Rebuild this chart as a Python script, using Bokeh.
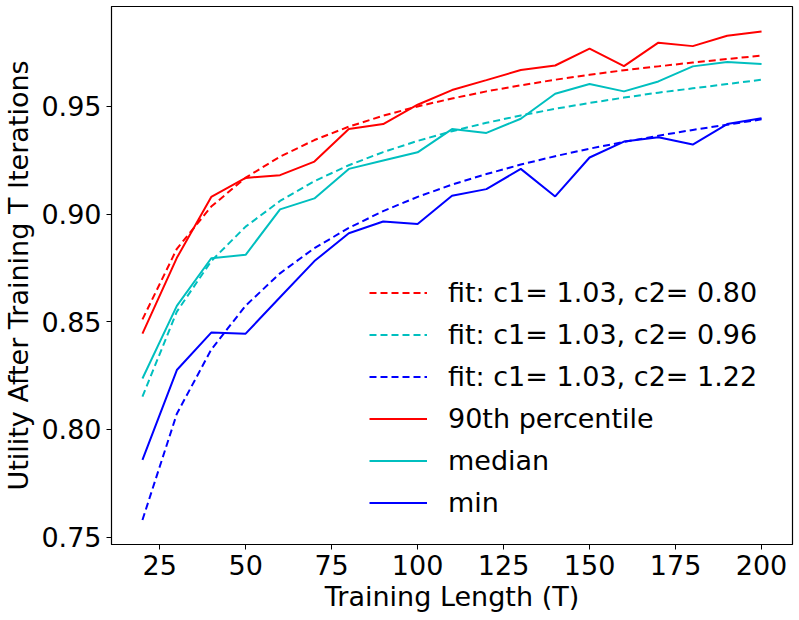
from bokeh.plotting import figure
from bokeh.models import Range1d, FixedTicker, Legend, LegendItem, PrintfTickFormatter
from bokeh.embed import file_html
from bokeh.resources import INLINE

T = [20, 30, 40, 50, 60, 70, 80, 90, 100, 110, 120, 130, 140, 150, 160, 170, 180, 190, 200]

p90 = [0.8445, 0.8797, 0.9080, 0.9168, 0.9181, 0.9244, 0.9395, 0.9418, 0.9508, 0.9576,
       0.9622, 0.9669, 0.9690, 0.9768, 0.9687, 0.9796, 0.9780, 0.9828, 0.9848]
median = [0.8237, 0.8574, 0.8795, 0.8811, 0.9022, 0.9073, 0.9210, 0.9249, 0.9287, 0.9395,
          0.9377, 0.9443, 0.9559, 0.9604, 0.9570, 0.9616, 0.9686, 0.9706, 0.9697]
minimum = [0.7859, 0.8276, 0.8450, 0.8445, 0.8614, 0.8782, 0.8911, 0.8966, 0.8954, 0.9085,
           0.9116, 0.9210, 0.9082, 0.9263, 0.9337, 0.9357, 0.9323, 0.9418, 0.9445]

fit_p90 = [0.8511, 0.8839, 0.9035, 0.9169, 0.9267, 0.9344, 0.9406, 0.9457, 0.9500, 0.9537,
           0.9570, 0.9598, 0.9624, 0.9647, 0.9668, 0.9686, 0.9704, 0.9720, 0.9736]
fit_median = [0.8153, 0.8547, 0.8782, 0.8942, 0.9061, 0.9153, 0.9227, 0.9288, 0.9340, 0.9385,
              0.9424, 0.9458, 0.9489, 0.9516, 0.9541, 0.9564, 0.9584, 0.9604, 0.9624]
fit_min = [0.7580, 0.8073, 0.8371, 0.8575, 0.8725, 0.8842, 0.8936, 0.9014, 0.9080, 0.9137,
           0.9186, 0.9230, 0.9269, 0.9304, 0.9335, 0.9364, 0.9391, 0.9415, 0.9440]

labels_fit = ["fit: c1= 1.03, c2= 0.80", "fit: c1= 1.03, c2= 0.96", "fit: c1= 1.03, c2= 1.22"]
labels_data = ["90th percentile", "median", "min"]

x_ticks = [25, 50, 75, 100, 125, 150, 175, 200]
y_ticks = [0.75, 0.80, 0.85, 0.90, 0.95]

RED = "#ff0000"
CYAN = "#00bfbf"
BLUE = "#0000ff"
FONT = "DejaVu Sans"
FS = "27px"

p = figure(width=799, height=620, output_backend="svg", toolbar_location=None,
           x_range=Range1d(11, 209), y_range=Range1d(0.7466, 0.9964),
           min_border_left=108, min_border_right=7, min_border_top=6, min_border_bottom=76)

p.grid.visible = False
p.outline_line_color = "black"
p.outline_line_width = 1.2
p.background_fill_color = "white"
p.border_fill_color = "white"

r_f1 = p.line(T, fit_p90, line_color=RED, line_width=2, line_dash="7 4")
r_f2 = p.line(T, fit_median, line_color=CYAN, line_width=2, line_dash="7 4")
r_f3 = p.line(T, fit_min, line_color=BLUE, line_width=2, line_dash="7 4")
r_d1 = p.line(T, p90, line_color=RED, line_width=2)
r_d2 = p.line(T, median, line_color=CYAN, line_width=2)
r_d3 = p.line(T, minimum, line_color=BLUE, line_width=2)

items = [
    LegendItem(label=labels_fit[0], renderers=[r_f1]),
    LegendItem(label=labels_fit[1], renderers=[r_f2]),
    LegendItem(label=labels_fit[2], renderers=[r_f3]),
    LegendItem(label=labels_data[0], renderers=[r_d1]),
    LegendItem(label=labels_data[1], renderers=[r_d2]),
    LegendItem(label=labels_data[2], renderers=[r_d3]),
]
legend = Legend(items=items, location=(258, 26), padding=0, margin=0,
                glyph_width=58, glyph_height=31, label_height=31, spacing=11,
                label_standoff=21, border_line_alpha=0, background_fill_alpha=0,
                label_text_font=FONT, label_text_font_size=FS, label_text_color="black")
p.add_layout(legend, "center")

for ax in (p.xaxis[0], p.yaxis[0]):
    ax.major_label_text_font = FONT
    ax.major_label_text_font_size = FS
    ax.major_label_text_color = "black"
    ax.axis_label_text_font = FONT
    ax.axis_label_text_font_size = FS
    ax.axis_label_text_font_style = "normal"
    ax.axis_label_text_color = "black"
    ax.minor_tick_line_color = None
    ax.major_tick_out = 5
    ax.major_tick_in = 0
    ax.axis_line_color = "black"
    ax.major_tick_line_color = "black"

p.xaxis[0].ticker = FixedTicker(ticks=x_ticks)
p.yaxis[0].ticker = FixedTicker(ticks=y_ticks)
p.yaxis[0].formatter = PrintfTickFormatter(format="%.2f")
p.xaxis[0].axis_label = "Training Length (T)"
p.yaxis[0].axis_label = "Utility After Training T Iterations"
p.xaxis[0].major_label_standoff = 5
p.xaxis[0].axis_label_standoff = 3
p.yaxis[0].major_label_standoff = 5
p.yaxis[0].axis_label_standoff = 4

open("out.html", "w").write(file_html(p, INLINE))
